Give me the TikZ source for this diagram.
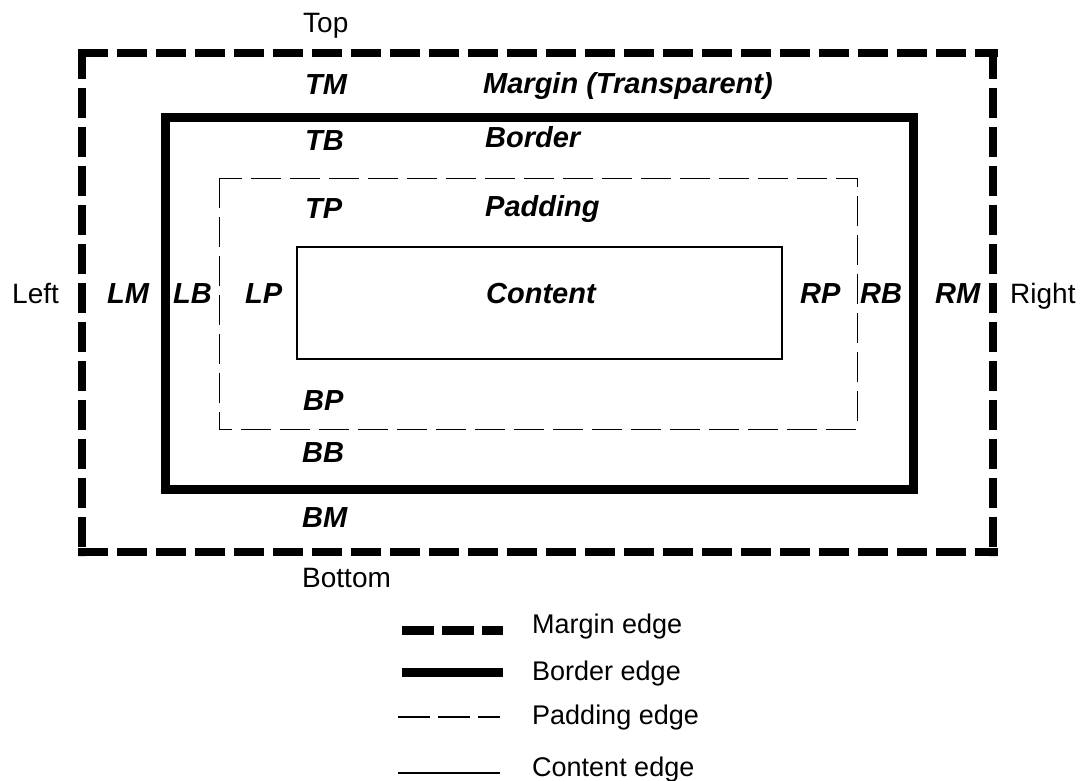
\documentclass[tikz,border=0pt]{standalone}
\usepackage{fontspec}
\setmainfont{Liberation Sans}
\begin{document}
\begin{tikzpicture}[x=1pt,y=-1pt,
  lbl/.style={anchor=base west,inner sep=0pt,font=\fontsize{29}{31}\selectfont\bfseries\itshape},
  side/.style={anchor=base west,inner sep=0pt,font=\fontsize{28}{30}\selectfont},
  leg/.style={anchor=base west,inner sep=0pt,font=\fontsize{27}{29}\selectfont},
  marginedge/.style={line width=8.5pt,dash pattern=on 30pt off 9pt},
  borderedge/.style={line width=9pt,line join=miter},
  paddingedge/.style={line width=1pt,dash pattern=on 30pt off 9pt},
  contentedge/.style={line width=1.2pt}]
\useasboundingbox (0,0) rectangle (1083,780);
% margin box
\coordinate (mtl) at (78,53); \coordinate (mtr) at (997.5,53);
\draw[marginedge] (mtl) -- (mtr);
\draw[marginedge] (82,49) -- (82,556);
\draw[marginedge] (993,49) -- (993,556);
\draw[marginedge] (78,552) -- (997.5,552);
% border box
\draw[borderedge] (165,117) rectangle (913,489);
% padding box
\draw[paddingedge] (219,178) rectangle (857,429);
% content box
\draw[contentedge] (297,247) rectangle (782,359);
% labels
\node[side] (top) at (303,32) {Top};
\node[lbl] (tm) at (305,94) {TM};
\node[lbl] (mt) at (483,93) {Margin (Transparent)};
\node[lbl] (tb) at (305,150) {TB};
\node[lbl] (bt) at (485,147) {Border};
\node[lbl] (tp) at (305,218) {TP};
\node[lbl] (pt) at (485,216) {Padding};
\node[side] (left) at (12,303) {Left};
\node[lbl] (lm) at (107,303) {LM};
\node[lbl] (lb) at (173,303) {LB};
\node[lbl] (lp) at (245,303) {LP};
\node[lbl] (ct) at (486,303) {Content};
\node[lbl] (rp) at (800,303) {RP};
\node[lbl] (rb) at (860,303) {RB};
\node[lbl] (rm) at (935,303) {RM};
\node[side] (right) at (1010,303) {Right};
\node[lbl] (bp) at (303,410) {BP};
\node[lbl] (bb) at (302,462) {BB};
\node[lbl] (bm) at (302,527) {BM};
\node[side] (bottom) at (302,587) {Bottom};
% legend
\coordinate (l1a) at (402,630); \coordinate (l1b) at (503,630);
\coordinate (l2a) at (402,672); \coordinate (l2b) at (503,672);
\coordinate (l3a) at (398,717); \coordinate (l3b) at (500,717);
\coordinate (l4a) at (398,773); \coordinate (l4b) at (500,773);
\draw[line width=9pt,dash pattern=on 32pt off 8pt] (l1a) -- (l1b);
\draw[line width=9pt] (l2a) -- (l2b);
\draw[line width=1.3pt,dash pattern=on 32pt off 8pt] (l3a) -- (l3b);
\draw[line width=2pt] (l4a) -- (l4b);
\node[leg] (le1) at (532,633) {Margin edge};
\node[leg] (le2) at (532,680) {Border edge};
\node[leg] (le3) at (532,724) {Padding edge};
\node[leg] (le4) at (532,776) {Content edge};
\end{tikzpicture}
\end{document}
